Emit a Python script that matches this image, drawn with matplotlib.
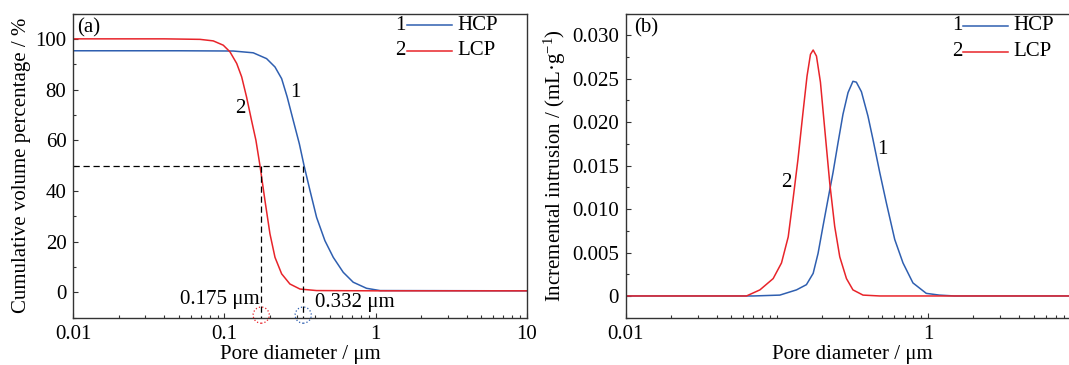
import numpy as np
import matplotlib
matplotlib.use('Agg')
import matplotlib.pyplot as plt
from matplotlib.ticker import FixedLocator, LogLocator, MultipleLocator, FuncFormatter, NullFormatter

plt.rcParams['font.family'] = ['Liberation Serif', 'DejaVu Serif']
plt.rcParams['mathtext.fontset'] = 'custom'
plt.rcParams['mathtext.rm'] = 'Liberation Serif'
plt.rcParams['mathtext.it'] = 'Liberation Serif:italic'

# ---- data ----
series_names = ['HCP', 'LCP']
series_ids = ['1', '2']

# (a) cumulative volume percentage
cum_hcp_d = [0.01, 0.05, 0.1143, 0.155, 0.190, 0.216, 0.239, 0.260, 0.285, 0.313, 0.336,
             0.368, 0.407, 0.462, 0.525, 0.611, 0.711, 0.871, 1.07, 10]
cum_hcp_v = [95.3, 95.3, 95.2, 94.5, 92.2, 88.9, 84.3, 77.1, 67.9, 58.6, 50.1,
             40.2, 29.6, 20.4, 13.8, 7.9, 4.0, 1.6, 0.7, 0.6]
cum_lcp_d = [0.01, 0.04, 0.0689, 0.0843, 0.0982, 0.1087, 0.1205, 0.130, 0.140, 0.151, 0.1615,
             0.1717, 0.1854, 0.200, 0.216, 0.239, 0.271, 0.316, 0.407, 1, 10]
cum_lcp_v = [100, 100, 99.8, 99.2, 97.5, 94.9, 90.3, 85, 77.1, 67.9, 60,
             50.1, 36.2, 23.1, 13.8, 7.3, 3.3, 1.3, 0.7, 0.6, 0.6]

# median pore diameters marked on (a)
median_d = [0.175, 0.332]
median_labels = ['0.175 \u03bcm', '0.332 \u03bcm']

# (b) incremental intrusion
inc_hcp_d = [0.01, 0.0697, 0.1047, 0.135, 0.157, 0.174, 0.1875, 0.202, 0.218, 0.2355, 0.254,
             0.274, 0.296, 0.319, 0.336, 0.363, 0.401, 0.433, 0.480, 0.531, 0.603, 0.684,
             0.796, 0.975, 1.19, 1.5, 10]
inc_hcp_v = [0, 0, 0.0001, 0.0007, 0.0013, 0.0026, 0.0049, 0.0080, 0.0111, 0.0142, 0.0176,
             0.0209, 0.0234, 0.0247, 0.0246, 0.0235, 0.0207, 0.0180, 0.0142, 0.0107, 0.0065,
             0.0038, 0.0015, 0.0003, 0.0001, 0, 0]
inc_lcp_d = [0.01, 0.063, 0.0773, 0.0946, 0.1074, 0.119, 0.128, 0.138, 0.149, 0.1585, 0.167,
             0.174, 0.183, 0.1944, 0.2076, 0.224, 0.2416, 0.261, 0.289, 0.319, 0.372, 0.48, 10]
inc_lcp_v = [0, 0, 0.0007, 0.0020, 0.0038, 0.0068, 0.0111, 0.0157, 0.0211, 0.0253, 0.0278,
             0.0283, 0.0276, 0.0246, 0.0192, 0.0130, 0.0080, 0.0045, 0.0020, 0.0007, 0.0001,
             0, 0]

blue = '#2f5fb0'
red = '#e8242a'
FS = 15

fig = plt.figure(figsize=(10.69, 3.65), dpi=100)
# panel (b) runs past the right edge, like the cropped original
ax_a = fig.add_axes([0.0686, 0.1296, 0.4241, 0.8334])
ax_b = fig.add_axes([0.5853, 0.1296, 0.4241, 0.8334])


def style_axis(ax):
    ax.set_xscale('log')
    for sp in ax.spines.values():
        sp.set_color('#333333')
        sp.set_linewidth(1.0)
    ax.tick_params(which='both', direction='in', top=False, right=False,
                   labelsize=FS, color='#333333', width=0.8)
    ax.tick_params(which='major', length=3.6, pad=5)
    ax.tick_params(which='minor', length=2.2)
    ax.xaxis.set_minor_locator(LogLocator(base=10, subs=np.arange(1, 10)))
    ax.xaxis.set_minor_formatter(NullFormatter())


def legend_rows(ax, x0, x1, y0):
    for i, (num, name, col) in enumerate(zip(series_ids, series_names, [blue, red])):
        y = y0 - i * 0.084
        ax.plot([x0, x1], [y, y], color=col, lw=1.1, transform=ax.transAxes)
        ax.text(x0 - 0.002, y, num, transform=ax.transAxes, ha='right', va='center', fontsize=FS)
        ax.text(x1 + 0.012, y, name, transform=ax.transAxes, ha='left', va='center', fontsize=FS)


# ---- (a) ----
style_axis(ax_a)
ax_a.plot(cum_hcp_d, cum_hcp_v, color=blue, lw=1.1)
ax_a.plot(cum_lcp_d, cum_lcp_v, color=red, lw=1.1)
ax_a.set_xlim(0.01, 10)
ax_a.set_ylim(-10, 110)
ax_a.xaxis.set_major_locator(FixedLocator([0.01, 0.1, 1, 10]))
ax_a.xaxis.set_major_formatter(FuncFormatter(lambda v, p: '%g' % v))
ax_a.yaxis.set_major_locator(MultipleLocator(20))
ax_a.yaxis.set_minor_locator(MultipleLocator(10))
ax_a.set_ylim(-10, 110)

# median guide lines
ax_a.plot([0.01, median_d[1]], [50, 50], color='black', lw=0.9, ls=(0, (5, 3)))
for d in median_d:
    ax_a.plot([d, d], [50, -10], color='black', lw=0.9, ls=(0, (5, 3)))
ax_a.scatter(median_d, [-9, -9], s=135, facecolors='none', edgecolors=[red, blue],
             linestyles=':', linewidths=0.9, clip_on=False, zorder=5)
ax_a.text(0.171, -2.9, median_labels[0], ha='right', va='center', fontsize=FS)
ax_a.text(0.40, -4.0, median_labels[1], ha='left', va='center', fontsize=FS)
ax_a.text(0.296, 79, '1', ha='center', va='center', fontsize=FS)
ax_a.text(0.128, 72.5, '2', ha='center', va='center', fontsize=FS)
ax_a.text(0.008, 0.985, '(a)', transform=ax_a.transAxes, ha='left', va='top', fontsize=FS)
legend_rows(ax_a, 0.735, 0.835, 0.962)

ax_a.set_xlabel('Pore diameter / \u03bcm', fontsize=FS, labelpad=1)
ax_a.set_ylabel('Cumulative volume percentage / %', fontsize=FS, labelpad=3)

# ---- (b) ----
style_axis(ax_b)
ax_b.plot(inc_hcp_d, inc_hcp_v, color=blue, lw=1.1)
ax_b.plot(inc_lcp_d, inc_lcp_v, color=red, lw=1.1)
ax_b.set_xlim(0.01, 10)
ax_b.set_ylim(-0.0025, 0.0325)
ax_b.xaxis.set_major_locator(FixedLocator([0.01, 1, 100]))
ax_b.xaxis.set_major_formatter(FuncFormatter(lambda v, p: '%g' % v))
ax_b.yaxis.set_major_locator(MultipleLocator(0.005))
ax_b.yaxis.set_minor_locator(MultipleLocator(0.0025))
ax_b.yaxis.set_major_formatter(FuncFormatter(lambda v, p: '0' if abs(v) < 1e-9 else '%.3f' % v))
ax_b.text(0.497, 0.0169, '1', ha='center', va='center', fontsize=FS)
ax_b.text(0.116, 0.0130, '2', ha='center', va='center', fontsize=FS)
ax_b.text(0.018, 0.985, '(b)', transform=ax_b.transAxes, ha='left', va='top', fontsize=FS)
legend_rows(ax_b, 0.745, 0.844, 0.959)

ax_b.set_xlabel('Pore diameter / \u03bcm', fontsize=FS, labelpad=1)
ax_b.set_ylabel('Incremental intrusion / (mL\u00b7g$^{\\mathrm{-1}}$)', fontsize=FS, labelpad=3)

fig.savefig('out.png', dpi=100)
